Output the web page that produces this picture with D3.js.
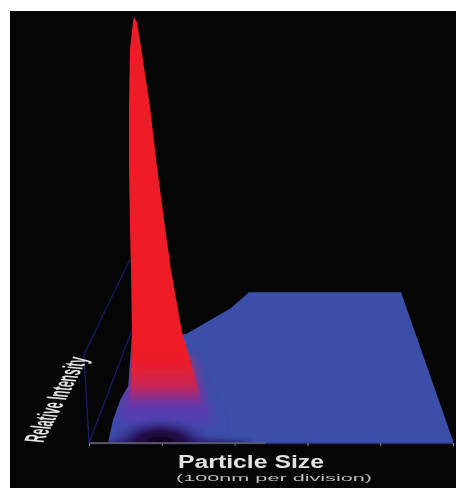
<!DOCTYPE html>
<html>
<head>
<meta charset="utf-8">
<script src="https://cdn.jsdelivr.net/npm/d3@7"></script>
<style>
  html, body { margin: 0; background: #fff; }
  svg { display: block; }
  text { font-family: "Liberation Sans", Arial, sans-serif; }
</style>
</head>
<body>
<script>
// Particle size in divisions (100nm each), intensity relative to the peak
var sizeTicks = [0, 1, 2, 3, 4, 5];

var peakLevel = [1, 0.988, 0.923, 0.789, 0.648, 0.507, 0.406, 0.261, 0.171, 0.085];
var peakLeft  = [0.618, 0.604, 0.563, 0.549, 0.549, 0.563, 0.577, 0.591, 0.591, 0.56];
var peakRight = [0.618, 0.659, 0.72, 0.838, 0.934, 1.044, 1.126, 1.277, 1.429, 1.56];

// Spread of the peak where it melts into the floor
var footLevel = [0.2, 0.13, 0.08, 0.04];
var footLeft  = [0.6, 0.52, 0.42, 0.34];
var footRight = [1.4, 1.55, 1.66, 1.8];

var floorSize  = [0.261, 0.33, 0.43, 0.54, 0.59, 1.332, 1.937, 2.198, 4.286, 5, 5];
var floorLevel = [0, 0.054, 0.101, 0.134, 0.256, 0.256, 0.315, 0.354, 0.354, 0.005, 0];

var wallSize  = [0.59, 0, -0.07, 0.56];
var wallLevel = [0.265, 0, 0.207, 0.43];

var dipSize = 0.98, dipLevel = 0, dipWide = 0.72, dipTall = 0.06;
var bandSize = 1.2, bandLevel = 0, bandWide = 1.05, bandTall = 0.008;

var width = 456, height = 488;

var x = d3.scaleLinear().domain([0, 5]).range([89, 453]);
var y = d3.scaleLinear().domain([0, 1]).range([443, 17]);

var outline = d3.line().x(function(d) {return x(d[0]); }).y(function(d) {return y(d[1]); });
var band = d3.area()
  .x0(function(d) {return x(d[1]); })
  .x1(function(d) {return x(d[2]); })
  .y(function(d) {return y(d[0]); });

var svg = d3.select('body').append('svg')
  .attr('width', width)
  .attr('height', height);

var defs = svg.append('defs');

function blur(id, amount) {
  defs.append('filter').attr('id', id)
    .attr('x', '-30%').attr('y', '-100%').attr('width', '160%').attr('height', '300%')
    .append('feGaussianBlur').attr('stdDeviation', amount);
}
blur('soft', 0.7);
blur('mid', 2);
blur('wide', 6);

defs.append('clipPath').attr('id', 'floorClip')
  .append('path')
  .attr('d', outline(d3.zip(floorSize, floorLevel)) + 'Z');

// The peak goes from red into purple near its foot
var peakFill = defs.append('linearGradient').attr('id', 'peakFill')
  .attr('gradientUnits', 'userSpaceOnUse')
  .attr('x1', 0).attr('x2', 0)
  .attr('y1', y(0.22)).attr('y2', y(0.085));
[[0, '#ee1c25', 1], [0.3, '#e81f30', 1], [0.65, '#d0264a', 0.85], [1, '#a02c80', 0]]
  .forEach(function(s) {
    peakFill.append('stop').attr('offset', s[0]).attr('stop-color', s[1]).attr('stop-opacity', s[2]);
  });

var footFill = defs.append('linearGradient').attr('id', 'footFill')
  .attr('gradientUnits', 'userSpaceOnUse')
  .attr('x1', 0).attr('x2', 0)
  .attr('y1', y(0.2)).attr('y2', y(0.04));
[[0, '#c02a58'], [0.4, '#8a2f95'], [0.75, '#5c3ab0'], [1, '#4a42b0']]
  .forEach(function(s) {
    footFill.append('stop').attr('offset', s[0]).attr('stop-color', s[1]);
  });

var dipFill = defs.append('radialGradient').attr('id', 'dipFill');
dipFill.append('stop').attr('offset', 0).attr('stop-color', '#0c0016');
dipFill.append('stop').attr('offset', 0.45).attr('stop-color', '#220844').attr('stop-opacity', 0.95);
dipFill.append('stop').attr('offset', 1).attr('stop-color', '#3a2a90').attr('stop-opacity', 0);

svg.append('rect')
  .attr('x', 10).attr('y', 11)
  .attr('width', width - 10).attr('height', height - 11)
  .attr('fill', '#050505');

var plot = svg.append('g').attr('filter', 'url(#soft)');

// Wall frame behind the peak
plot.append('path')
  .attr('d', outline(d3.zip(wallSize, wallLevel)))
  .attr('fill', 'none')
  .attr('stroke', '#1a1e6a')
  .attr('stroke-width', 1.3);

// Floor
plot.append('path')
  .attr('d', outline(d3.zip(floorSize, floorLevel)) + 'Z')
  .attr('fill', '#3a4fa9');

var shade = plot.append('g').attr('clip-path', 'url(#floorClip)');

shade.append('path')
  .attr('d', band(d3.zip(footLevel, footLeft, footRight)))
  .attr('fill', 'url(#footFill)')
  .attr('filter', 'url(#wide)');

shade.append('ellipse')
  .attr('cx', x(bandSize)).attr('cy', y(bandLevel))
  .attr('rx', x(bandWide) - x(0)).attr('ry', y(0) - y(bandTall))
  .attr('fill', '#2a1a70')
  .attr('filter', 'url(#mid)');

shade.append('ellipse')
  .attr('cx', x(dipSize)).attr('cy', y(dipLevel))
  .attr('rx', x(dipWide) - x(0)).attr('ry', y(0) - y(dipTall))
  .attr('fill', 'url(#dipFill)');

// Peak
plot.append('path')
  .attr('d', band(d3.zip(peakLevel, peakLeft, peakRight)))
  .attr('fill', 'url(#peakFill)');

// Size axis
var axis = plot.append('g')
  .attr('transform', 'translate(0,' + y(0) + ')')
  .call(d3.axisBottom(x).tickValues(sizeTicks).tickSize(3).tickFormat(''));
axis.select('.domain').attr('stroke', '#2a2f70').attr('stroke-width', 1.5);
axis.selectAll('.tick line').attr('stroke', '#8a8a8a');
axis.append('line')
  .attr('x1', x(0)).attr('x2', x(2.42))
  .attr('stroke', '#666').attr('stroke-width', 1.3);

var labels = svg.append('g').attr('filter', 'url(#soft)').attr('fill', '#e2e2e2');

labels.append('text')
  .attr('transform', 'matrix(0.417,-0.787,2,0.2,43,443)')
  .attr('font-size', 14)
  .attr('font-weight', 'bold')
  .attr('textLength', 108)
  .attr('lengthAdjust', 'spacingAndGlyphs')
  .text('Relative Intensity');

labels.append('text')
  .attr('x', 178).attr('y', 468)
  .attr('font-size', 18)
  .attr('font-weight', 'bold')
  .attr('textLength', 146)
  .attr('lengthAdjust', 'spacingAndGlyphs')
  .text('Particle Size');

labels.append('text')
  .attr('x', 176).attr('y', 481)
  .attr('font-size', 9)
  .attr('fill', '#bdbdbd')
  .attr('textLength', 196)
  .attr('lengthAdjust', 'spacingAndGlyphs')
  .text('(100nm per division)');
</script>
</body>
</html>
